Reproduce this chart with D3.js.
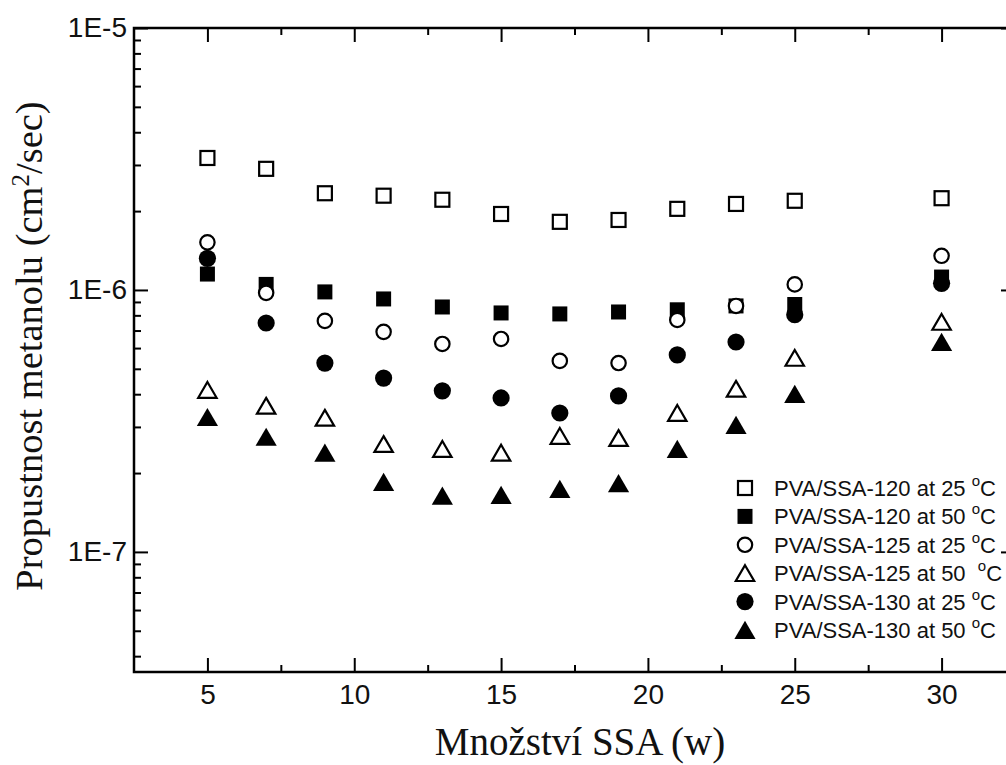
<html>
<head>
<meta charset="utf-8">
<script src="https://d3js.org/d3.v7.min.js"></script>
<style>
  body { margin:0; background:#fff; }
  text { fill:#111; }
</style>
</head>
<body>
<svg id="chart" width="1006" height="765"></svg>
<script>
// amounts of SSA (w)
var xs = [5, 7, 9, 11, 13, 15, 17, 19, 21, 23, 25, 30];

// methanol permeability, cm2/sec
var pva120at25 = [3.19e-6, 2.90e-6, 2.34e-6, 2.29e-6, 2.21e-6, 1.95e-6, 1.82e-6, 1.85e-6, 2.04e-6, 2.13e-6, 2.19e-6, 2.24e-6];
var pva120at50 = [1.15e-6, 1.05e-6, 9.83e-7, 9.24e-7, 8.61e-7, 8.17e-7, 8.10e-7, 8.24e-7, 8.40e-7, 8.69e-7, 8.80e-7, 1.12e-6];
var pva125at25 = [1.52e-6, 9.75e-7, 7.62e-7, 6.92e-7, 6.22e-7, 6.50e-7, 5.36e-7, 5.26e-7, 7.68e-7, 8.69e-7, 1.05e-6, 1.35e-6];
var pva125at50 = [4.15e-7, 3.61e-7, 3.25e-7, 2.58e-7, 2.47e-7, 2.39e-7, 2.77e-7, 2.72e-7, 3.39e-7, 4.19e-7, 5.50e-7, 7.55e-7];
var pva130at25 = [1.32e-6, 7.48e-7, 5.26e-7, 4.61e-7, 4.12e-7, 3.87e-7, 3.39e-7, 3.94e-7, 5.65e-7, 6.33e-7, 8.05e-7, 1.06e-6];
var pva130at50 = [3.27e-7, 2.75e-7, 2.39e-7, 1.85e-7, 1.64e-7, 1.65e-7, 1.74e-7, 1.83e-7, 2.47e-7, 3.05e-7, 4.01e-7, 6.33e-7];

var seriesNames = ["PVA/SSA-120 at 25 ", "PVA/SSA-120 at 50 ", "PVA/SSA-125 at 25 ",
                   "PVA/SSA-125 at 50  ", "PVA/SSA-130 at 25 ", "PVA/SSA-130 at 50 "];
var seriesMarkers = ["square-open", "square", "circle-open", "triangle-open", "circle", "triangle"];
var seriesValues = [pva120at25, pva120at50, pva125at25, pva125at50, pva130at25, pva130at50];

var xMajorTicks = [5, 10, 15, 20, 25, 30];
var xMinorTicks = [7.5, 12.5, 17.5, 22.5, 27.5, 32.5];
var yMajorTicks = [1e-7, 1e-6, 1e-5];
var yTickLabels = ["1E-7", "1E-6", "1E-5"];

var svg = d3.select("#chart");
var plotLeft = 134, plotRight = 1015, plotTop = 28, plotBottom = 672;

var x = d3.scaleLinear().domain([2.5, 32.5]).range([plotLeft, plotRight]);
var y = d3.scaleLog().domain([3.48e-8, 1e-5]).range([plotBottom, plotTop]);

var yMinor = y.ticks().filter(function(d){ return yMajorTicks.indexOf(d) < 0; });

function styleAxis(g) {
    g.select(".domain").remove();
    g.selectAll("line").attr("stroke", "#000").attr("stroke-width", 2);
    g.selectAll("text").style("font-family", "'Liberation Sans', Arial, sans-serif")
        .style("font-size", "28px").attr("fill", "#111");
}

// bottom axis
svg.append("g").attr("transform", "translate(0," + plotBottom + ")")
    .call(d3.axisBottom(x).tickValues(xMajorTicks).tickSizeInner(-14).tickSizeOuter(0).tickPadding(12))
    .call(styleAxis);
svg.append("g").attr("transform", "translate(0," + plotBottom + ")")
    .call(d3.axisBottom(x).tickValues(xMinorTicks).tickSizeInner(-7).tickSizeOuter(0).tickFormat(""))
    .call(styleAxis);
// top axis
svg.append("g").attr("transform", "translate(0," + plotTop + ")")
    .call(d3.axisTop(x).tickValues(xMajorTicks).tickSizeInner(-14).tickSizeOuter(0).tickFormat(""))
    .call(styleAxis);
svg.append("g").attr("transform", "translate(0," + plotTop + ")")
    .call(d3.axisTop(x).tickValues(xMinorTicks).tickSizeInner(-7).tickSizeOuter(0).tickFormat(""))
    .call(styleAxis);
// left axis
svg.append("g").attr("transform", "translate(" + plotLeft + ",0)")
    .call(d3.axisLeft(y).tickValues(yMajorTicks).tickSizeInner(-14).tickSizeOuter(0).tickPadding(7)
        .tickFormat(function(d, i){ return yTickLabels[i]; }))
    .call(styleAxis);
svg.append("g").attr("transform", "translate(" + plotLeft + ",0)")
    .call(d3.axisLeft(y).tickValues(yMinor).tickSizeInner(-7).tickSizeOuter(0).tickFormat(""))
    .call(styleAxis);
// right axis
svg.append("g").attr("transform", "translate(" + plotRight + ",0)")
    .call(d3.axisRight(y).tickValues(yMajorTicks).tickSizeInner(-14).tickSizeOuter(0).tickFormat(""))
    .call(styleAxis);
svg.append("g").attr("transform", "translate(" + plotRight + ",0)")
    .call(d3.axisRight(y).tickValues(yMinor).tickSizeInner(-7).tickSizeOuter(0).tickFormat(""))
    .call(styleAxis);

// frame
svg.append("rect")
    .attr("x", plotLeft).attr("y", plotTop)
    .attr("width", plotRight - plotLeft).attr("height", plotBottom - plotTop)
    .attr("fill", "none").attr("stroke", "#000").attr("stroke-width", 2.5);

// markers
function drawMarker(g, type, cx, cy) {
    if (type == "square-open") {
        g.append("rect").attr("x", cx - 7).attr("y", cy - 7).attr("width", 14).attr("height", 14)
            .attr("fill", "#fff").attr("stroke", "#000").attr("stroke-width", 2.2);
    } else if (type == "square") {
        g.append("rect").attr("x", cx - 7.5).attr("y", cy - 7.5).attr("width", 15).attr("height", 15)
            .attr("fill", "#000");
    } else if (type == "circle-open") {
        g.append("circle").attr("cx", cx).attr("cy", cy).attr("r", 7.2)
            .attr("fill", "#fff").attr("stroke", "#000").attr("stroke-width", 2.2);
    } else if (type == "circle") {
        g.append("circle").attr("cx", cx).attr("cy", cy).attr("r", 8.6).attr("fill", "#000");
    } else if (type == "triangle-open") {
        g.append("path").attr("d", "M" + cx + "," + (cy - 8) + "L" + (cx + 9.2) + "," + (cy + 7.8)
                + "L" + (cx - 9.2) + "," + (cy + 7.8) + "Z")
            .attr("fill", "#fff").attr("stroke", "#000").attr("stroke-width", 2.2).attr("stroke-linejoin", "miter");
    } else {
        g.append("path").attr("d", "M" + cx + "," + (cy - 9.2) + "L" + (cx + 10.6) + "," + (cy + 9)
                + "L" + (cx - 10.6) + "," + (cy + 9) + "Z")
            .attr("fill", "#000");
    }
}

var points = svg.append("g");
seriesValues.forEach(function(vals, s){
    vals.forEach(function(v, i){
        drawMarker(points, seriesMarkers[s], x(xs[i]), y(v));
    });
});

// legend
var legend = svg.append("g");
seriesNames.forEach(function(name, i){
    var ly = 488 + i * 28.4;
    drawMarker(legend, seriesMarkers[i], 745, ly);
    var t = legend.append("text")
        .attr("x", 774).attr("y", ly + 8)
        .style("white-space", "pre")
        .style("font-family", "'Liberation Sans', Arial, sans-serif")
        .style("font-size", "22px");
    t.append("tspan").text(name);
    t.append("tspan").attr("dy", -10).style("font-size", "15px").text("o");
    t.append("tspan").attr("dy", 10).text("C");
});

// axis titles
svg.append("text")
    .attr("x", 580).attr("y", 755)
    .attr("text-anchor", "middle")
    .style("font-family", "'Liberation Serif', 'Times New Roman', serif")
    .style("font-size", "39px")
    .text("Množství SSA (w)");

var yt = svg.append("text")
    .attr("transform", "translate(42,346) rotate(-90)")
    .attr("text-anchor", "middle")
    .style("font-family", "'Liberation Serif', 'Times New Roman', serif")
    .style("font-size", "38.5px");
yt.append("tspan").text("Propustnost metanolu (cm");
yt.append("tspan").attr("dy", -13).style("font-size", "25px").text("2");
yt.append("tspan").attr("dy", 13).text("/sec)");
</script>
</body>
</html>
